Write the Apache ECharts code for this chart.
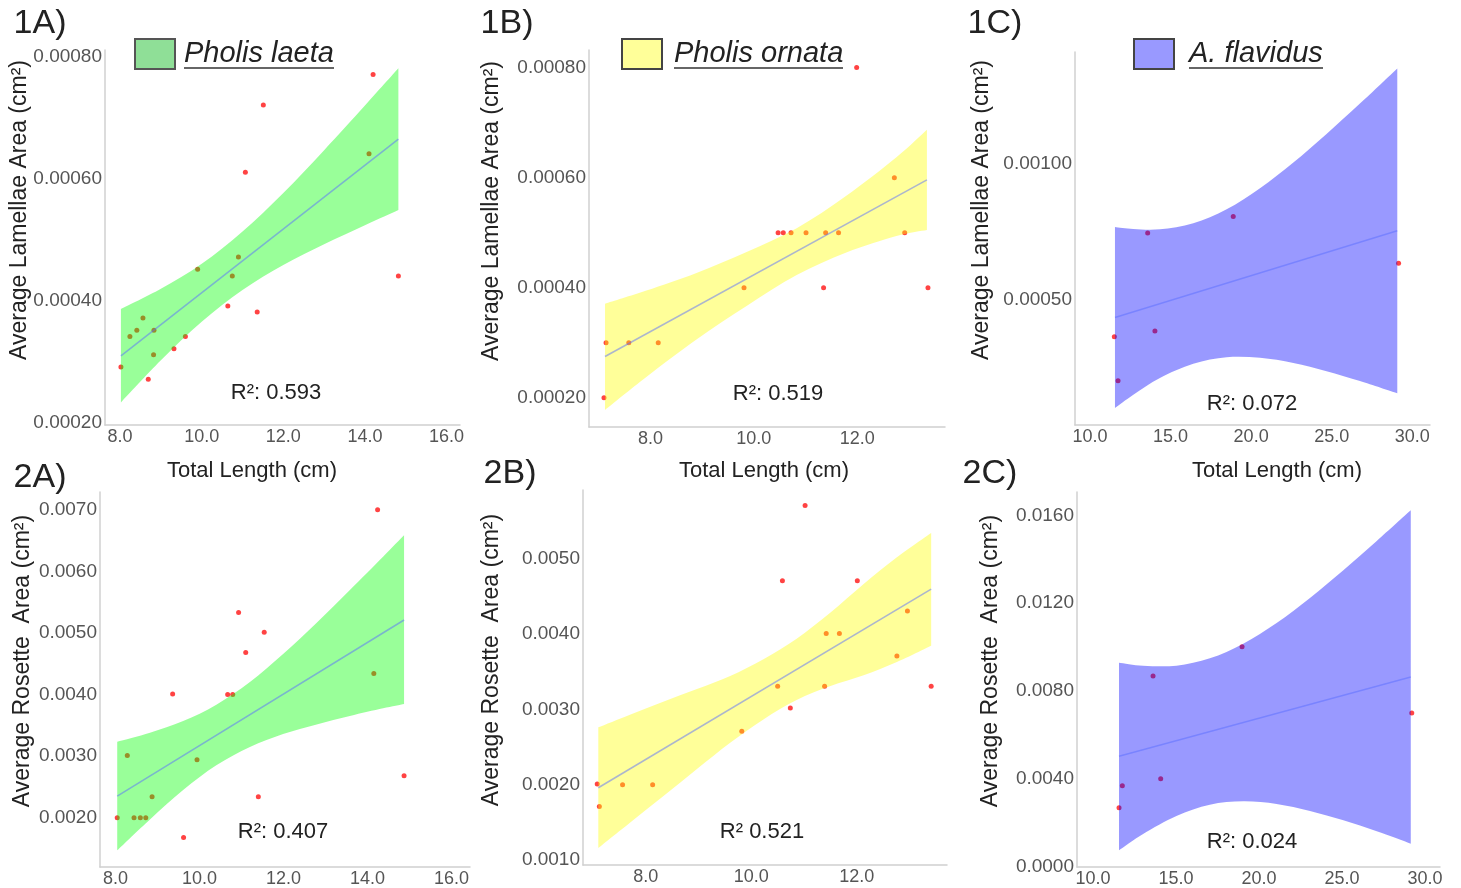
<!DOCTYPE html>
<html>
<head>
<meta charset="utf-8">
<script src="https://cdn.jsdelivr.net/npm/echarts@6/dist/echarts.min.js"></script>
<style>
  html, body { margin: 0; background: #fff; }
  #chart { width: 1461px; height: 888px; }
</style>
</head>
<body>
<div id="chart"></div>
<script>
// 1A  Pholis laeta, lamellae
const laetaLamLength = [8.02, 8.24, 8.41, 8.56, 8.69, 8.83, 8.82, 9.32, 9.60, 9.90, 10.64, 10.75, 10.90, 11.07, 11.36, 11.51, 14.10, 14.20, 14.82]
const laetaLamArea = [0.000292, 0.000342, 0.000352, 0.000372, 0.000272, 0.000352, 0.000312, 0.000322, 0.000342, 0.000452, 0.000392, 0.000441, 0.000472, 0.000611, 0.000382, 0.000721, 0.000641, 0.000771, 0.000441]
const laetaLamFitX = [8.02, 14.82]
const laetaLamFitY = [0.00031, 0.000665]
const laetaLamBandX = [8.02, 9.0, 10.0, 11.0, 12.0, 13.0, 14.0, 14.82]
const laetaLamBandUp = [0.000387, 0.000420, 0.000461, 0.000514, 0.000577, 0.000647, 0.000720, 0.000781]
const laetaLamBandLo = [0.000234, 0.000303, 0.000366, 0.000418, 0.000459, 0.000493, 0.000524, 0.000549]

// 1B  Pholis ornata, lamellae
const ornataLamLength = [7.10, 7.14, 7.58, 8.15, 9.81, 10.47, 10.57, 10.72, 11.01, 11.35, 11.39, 11.64, 11.99, 12.72, 12.92, 13.37]
const ornataLamArea = [0.0002, 0.0003, 0.0003, 0.0003, 0.0004, 0.0005, 0.0005, 0.0005, 0.0005, 0.0004, 0.0005, 0.0005, 0.0008, 0.0006, 0.0005, 0.0004]
const ornataLamFitX = [7.12, 13.35]
const ornataLamFitY = [0.000275, 0.000596]
const ornataLamBandX = [7.12, 7.92, 8.89, 9.86, 10.83, 11.79, 12.76, 13.35]
const ornataLamBandUp = [0.000371, 0.000395, 0.000427, 0.000465, 0.000508, 0.000567, 0.000637, 0.000687]
const ornataLamBandLo = [0.000178, 0.000238, 0.000306, 0.000367, 0.000423, 0.000464, 0.000494, 0.000505]

// 1C  A. flavidus, lamellae
const flavLamLength = [11.51, 11.74, 13.58, 14.03, 18.89, 29.15]
const flavLamArea = [0.000366, 0.000205, 0.000746, 0.000387, 0.000807, 0.000635]
const flavLamFitX = [11.55, 29.07]
const flavLamFitY = [0.000437, 0.000754]
const flavLamBandX = [11.55, 12.69, 14.34, 16.41, 18.48, 20.55, 22.62, 24.68, 26.75, 29.07]
const flavLamBandUp = [0.000768, 0.000761, 0.00076, 0.000782, 0.000833, 0.00091, 0.001004, 0.001109, 0.00122, 0.001349]
const flavLamBandLo = [0.000105, 0.000154, 0.000215, 0.000267, 0.000291, 0.000289, 0.00027, 0.00024, 0.000204, 0.000159]

// 2A  Pholis laeta, rosette
const laetaRosLength = [8.04, 8.28, 8.44, 8.59, 8.72, 8.87, 9.36, 9.62, 9.94, 10.67, 10.79, 10.93, 11.10, 11.40, 11.54, 14.15, 14.24, 14.87]
const laetaRosArea = [0.0020, 0.00301, 0.0020, 0.0020, 0.0020, 0.00234, 0.00401, 0.00168, 0.00294, 0.0040, 0.0040, 0.00533, 0.00468, 0.00234, 0.00501, 0.00434, 0.0070, 0.00268]
const laetaRosFitX = [8.04, 14.87]
const laetaRosFitY = [0.00235, 0.00521]
const laetaRosBandX = [8.04, 8.82, 9.61, 10.40, 11.20, 11.99, 12.79, 13.58, 14.37, 14.87]
const laetaRosBandUp = [0.003234, 0.00338, 0.003569, 0.003835, 0.004203, 0.004657, 0.005166, 0.005696, 0.006237, 0.006583]
const laetaRosBandLo = [0.00147, 0.001973, 0.002449, 0.00285, 0.003147, 0.003358, 0.003515, 0.003651, 0.003775, 0.003845]

// 2B  Pholis ornata, rosette
const ornataRosLength = [7.08, 7.12, 7.56, 8.13, 9.82, 10.50, 10.59, 10.74, 11.02, 11.39, 11.42, 11.67, 12.01, 12.76, 12.96, 13.41]
const ornataRosArea = [0.00201, 0.00171, 0.0020, 0.0020, 0.00271, 0.00331, 0.00471, 0.00302, 0.00571, 0.00331, 0.00401, 0.00401, 0.00471, 0.00371, 0.00431, 0.00331]
const ornataRosFitX = [7.10, 13.41]
const ornataRosFitY = [0.00196, 0.0046]
const ornataRosBandX = [7.10, 7.70, 8.33, 8.97, 9.60, 10.23, 10.86, 11.49, 12.13, 12.76, 13.41]
const ornataRosBandUp = [0.002763, 0.002931, 0.003104, 0.003272, 0.003445, 0.003667, 0.003941, 0.004282, 0.004668, 0.005022, 0.005346]
const ornataRosBandLo = [0.001159, 0.001496, 0.001846, 0.002209, 0.002559, 0.002869, 0.003126, 0.003308, 0.003454, 0.003631, 0.003848]

// 2C  A. flavidus, rosette
const flavRosLength = [11.57, 11.77, 13.62, 14.08, 18.98, 29.20]
const flavRosArea = [0.0027, 0.0037, 0.00869, 0.00402, 0.01002, 0.00701]
const flavRosFitX = [11.57, 29.14]
const flavRosFitY = [0.005035, 0.008644]
const flavRosBandX = [11.57, 13.02, 15.03, 17.04, 19.05, 21.06, 23.07, 25.08, 27.09, 29.14]
const flavRosBandUp = [0.009297, 0.00916, 0.00916, 0.009494, 0.010161, 0.011101, 0.012239, 0.013498, 0.014832, 0.016227]
const flavRosBandLo = [0.000758, 0.001501, 0.00232, 0.002836, 0.002988, 0.002866, 0.002548, 0.002123, 0.001623, 0.001061]

// tick labels
const xTicksLaeta = [8, 10, 12, 14, 16]
const xTicksOrnata = [8, 10, 12]
const xTicksFlav = [10, 15, 20, 25, 30]
const yTicksLaetaLam = [0.0002, 0.0004, 0.0006, 0.0008]
const yTicksOrnataLam = [0.0002, 0.0004, 0.0006, 0.0008]
const yTicksFlavLam = [0.0005, 0.001]
const yTicksLaetaRos = [0.002, 0.003, 0.004, 0.005, 0.006, 0.007]
const yTicksOrnataRos = [0.001, 0.002, 0.003, 0.004, 0.005]
const yTicksFlavRos = [0, 0.004, 0.008, 0.012, 0.016]

const FONT = "'Liberation Sans', Arial, sans-serif"

const panels = [
  { grid: { left: 105, top: 50, width: 355, height: 375 }, x: [7.63, 16.33], y: [0.000197, 0.000811], xt: xTicksLaeta, yt: yTicksLaetaLam, dec: 5,
    px: laetaLamLength, py: laetaLamArea, fx: laetaLamFitX, fy: laetaLamFitY, bx: laetaLamBandX, bu: laetaLamBandUp, bl: laetaLamBandLo, band: 'rgba(0,255,0,0.4)' },
  { grid: { left: 589, top: 50, width: 356, height: 377 }, x: [6.81, 13.70], y: [0.000147, 0.000832], xt: xTicksOrnata, yt: yTicksOrnataLam, dec: 5,
    px: ornataLamLength, py: ornataLamArea, fx: ornataLamFitX, fy: ornataLamFitY, bx: ornataLamBandX, bu: ornataLamBandUp, bl: ornataLamBandLo, band: 'rgba(255,255,0,0.4)' },
  { grid: { left: 1075, top: 52, width: 355, height: 373 }, x: [9.07, 31.1], y: [0.000043, 0.001409], xt: xTicksFlav, yt: yTicksFlavLam, dec: 5,
    px: flavLamLength, py: flavLamArea, fx: flavLamFitX, fy: flavLamFitY, bx: flavLamBandX, bu: flavLamBandUp, bl: flavLamBandLo, band: 'rgba(0,0,255,0.4)' },
  { grid: { left: 100, top: 492, width: 370, height: 375 }, x: [7.63, 16.44], y: [0.0012, 0.007287], xt: xTicksLaeta, yt: yTicksLaetaRos, dec: 4,
    px: laetaRosLength, py: laetaRosArea, fx: laetaRosFitX, fy: laetaRosFitY, bx: laetaRosBandX, bu: laetaRosBandUp, bl: laetaRosBandLo, band: 'rgba(0,255,0,0.4)' },
  { grid: { left: 583, top: 490, width: 364, height: 375 }, x: [6.81, 13.71], y: [0.000934, 0.005917], xt: xTicksOrnata, yt: yTicksOrnataRos, dec: 4,
    px: ornataRosLength, py: ornataRosArea, fx: ornataRosFitX, fy: ornataRosFitY, bx: ornataRosBandX, bu: ornataRosBandUp, bl: ornataRosBandLo, band: 'rgba(255,255,0,0.4)' },
  { grid: { left: 1077, top: 492, width: 363, height: 376 }, x: [9.04, 30.9], y: [0, 0.01706], xt: xTicksFlav, yt: yTicksFlavRos, dec: 4,
    px: flavRosLength, py: flavRosArea, fx: flavRosFitX, fy: flavRosFitY, bx: flavRosBandX, bu: flavRosBandUp, bl: flavRosBandLo, band: 'rgba(0,0,255,0.4)' }
]

// smooth edge through pixel points (catmull-rom as cubic bezier)
function curve (pts) {
  let d = ''
  for (let k = 0; k < pts.length - 1; k++) {
    const p0 = pts[Math.max(k - 1, 0)]
    const p1 = pts[k]
    const p2 = pts[k + 1]
    const p3 = pts[Math.min(k + 2, pts.length - 1)]
    const c1 = [p1[0] + (p2[0] - p0[0]) / 6, p1[1] + (p2[1] - p0[1]) / 6]
    const c2 = [p2[0] - (p3[0] - p1[0]) / 6, p2[1] - (p3[1] - p1[1]) / 6]
    d += ' C' + c1[0] + ',' + c1[1] + ' ' + c2[0] + ',' + c2[1] + ' ' + p2[0] + ',' + p2[1]
  }
  return d
}

const grids = []
const xAxes = []
const yAxes = []
const series = []

panels.forEach(function (p, i) {
  grids.push(p.grid)
  xAxes.push({
    type: 'value', gridIndex: i, min: p.x[0], max: p.x[1],
    axisLine: { lineStyle: { color: '#d0d0d0', width: 1.5 } },
    axisTick: { show: false },
    splitLine: { show: false },
    axisLabel: { customValues: p.xt, formatter: v => v.toFixed(1), color: '#555', fontSize: 18, fontFamily: FONT, margin: 3 }
  })
  yAxes.push({
    type: 'value', gridIndex: i, min: p.y[0], max: p.y[1],
    axisLine: { show: true, lineStyle: { color: '#d0d0d0', width: 1.5 } },
    axisTick: { show: false },
    splitLine: { show: false },
    axisLabel: { customValues: p.yt, formatter: v => v.toFixed(p.dec), color: '#555', fontSize: 19, fontFamily: FONT, margin: 3 }
  })
  series.push({
    type: 'scatter', xAxisIndex: i, yAxisIndex: i, z: 2,
    symbolSize: 5, itemStyle: { color: '#ff1414' },
    data: p.px.map((x, k) => [x, p.py[k]])
  })
  series.push({
    type: 'custom', xAxisIndex: i, yAxisIndex: i, z: 3,
    data: [[p.bx[0], p.bu[0]]],
    renderItem: function (params, api) {
      const up = p.bx.map((x, k) => api.coord([x, p.bu[k]]))
      const lo = p.bx.map((x, k) => api.coord([x, p.bl[k]])).reverse()
      const d = 'M' + up[0][0] + ',' + up[0][1] + curve(up) +
        ' L' + lo[0][0] + ',' + lo[0][1] + curve(lo) + ' Z'
      return { type: 'path', shape: { pathData: d }, style: { fill: p.band } }
    }
  })
  series.push({
    type: 'line', xAxisIndex: i, yAxisIndex: i, z: 4,
    showSymbol: false, silent: true,
    lineStyle: { color: 'rgba(90,110,255,0.5)', width: 1.6 },
    data: p.fx.map((x, k) => [x, p.fy[k]])
  })
})

function txt (x, y, text, size) {
  return { type: 'text', x: x, y: y,
    style: { text: text, fontSize: size, fontFamily: FONT, fill: '#222', align: 'center', verticalAlign: 'middle' } }
}
function vtxt (x, y, text) {
  return { type: 'text', x: x, y: y, rotation: Math.PI / 2,
    style: { text: text, fontSize: 23, fontFamily: FONT, fill: '#222', align: 'center', verticalAlign: 'middle' } }
}
function legend (bx, fill, stroke, label, tx, tEnd) {
  return [
    { type: 'rect', shape: { x: bx, y: 39, width: 40, height: 30 }, style: { fill: fill, stroke: stroke, lineWidth: 2 } },
    { type: 'text', x: tx, y: 54, style: { text: label, fontSize: 29, fontStyle: 'italic', fontFamily: FONT, fill: '#222', align: 'left', verticalAlign: 'middle' } },
    { type: 'line', shape: { x1: tx, y1: 68, x2: tEnd, y2: 68 }, style: { stroke: '#333', lineWidth: 1.5 } }
  ]
}

const graphics = [
  txt(40, 24, '1A)', 34), txt(507, 24, '1B)', 34), txt(995, 24, '1C)', 34),
  txt(40, 478, '2A)', 34), txt(510, 474, '2B)', 34), txt(990, 474, '2C)', 34),
  txt(252, 471, 'Total Length (cm)', 22), txt(764, 471, 'Total Length (cm)', 22), txt(1277, 471, 'Total Length (cm)', 22),
  vtxt(20, 210, 'Average Lamellae Area (cm²)'), vtxt(492, 211, 'Average Lamellae Area (cm²)'), vtxt(982, 210, 'Average Lamellae Area (cm²)'),
  vtxt(23, 661, 'Average Rosette  Area (cm²)'), vtxt(492, 660, 'Average Rosette  Area (cm²)'), vtxt(991, 661, 'Average Rosette  Area (cm²)'),
  txt(276, 393, 'R²: 0.593', 22), txt(778, 394, 'R²: 0.519', 22), txt(1252, 404, 'R²: 0.072', 22),
  txt(283, 832, 'R²: 0.407', 22), txt(762, 832, 'R² 0.521', 22), txt(1252, 842, 'R²: 0.024', 22)
].concat(
  legend(135, '#8fdf97', '#555', 'Pholis laeta', 184, 334),
  legend(622, '#ffff99', '#444', 'Pholis ornata', 674, 843),
  legend(1134, '#9999ff', '#444', 'A. flavidus', 1189, 1323)
)

const chart = echarts.init(document.getElementById('chart'))
chart.setOption({
  animation: false,
  grid: grids,
  xAxis: xAxes,
  yAxis: yAxes,
  series: series,
  graphic: graphics
})
</script>
</body>
</html>
